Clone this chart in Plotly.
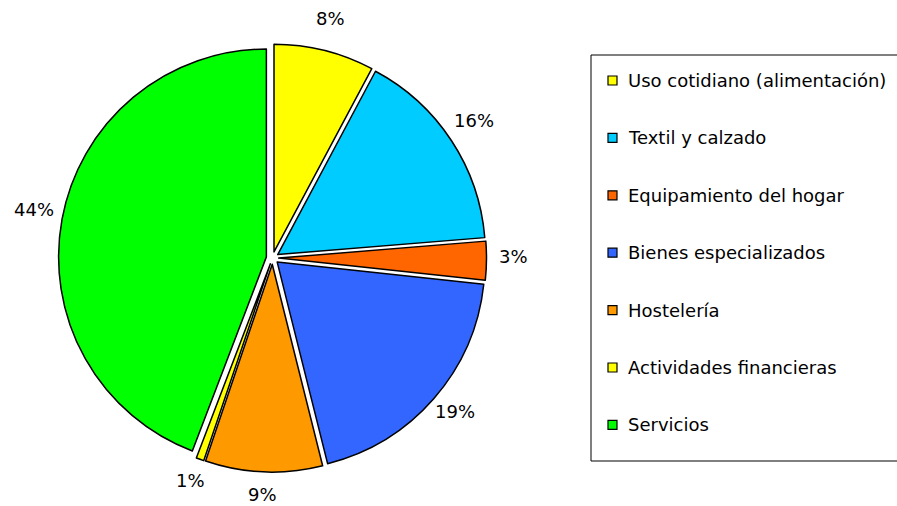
import math
import plotly.graph_objects as go

categories = ["Uso cotidiano (alimentación)", "Textil y calzado", "Equipamiento del hogar",
              "Bienes especializados", "Hostelería", "Actividades financieras", "Servicios"]
values = [7.8, 15.9, 3.0, 19.4, 9.1, 0.6, 44.2]
colors = ["#FFFF00", "#00CCFF", "#FF6600", "#3366FF", "#FF9900", "#FFFF00", "#00FF00"]

W, H = 897, 506
FONT = "DejaVu Sans, Liberation Sans, Arial"

fig = go.Figure()
fig.add_trace(go.Pie(
    labels=categories, values=values, sort=False, direction="clockwise", rotation=0,
    marker=dict(colors=colors, line=dict(color="black", width=1.5)),
    pull=[0.03] * len(values),
    textinfo="none",
    domain=dict(x=[58.5 / W, 486.5 / W], y=[(H - 472) / H, (H - 44) / H]),
    showlegend=False, hoverinfo="label+percent",
))

annotations = []
# percentage labels placed outside each slice, from the data's cumulative angles
cx, cy, rl = 272, 253, 242
total = sum(values)
cum = 0.0
for v in values:
    mid = (cum + v / 2) / total * 2 * math.pi
    cum += v
    px = cx + rl * math.sin(mid)
    py = cy - rl * math.cos(mid)
    annotations.append(dict(xref="paper", yref="paper", x=px / W, y=1 - py / H,
                            xanchor="center", yanchor="middle", showarrow=False,
                            text=f"{round(v / total * 100):.0f}%",
                            font=dict(family=FONT, size=18, color="black")))

# manual legend
lx0, lx1, ly0, ly1 = 591, 899, 55, 461
shapes = [dict(type="rect", xref="paper", yref="paper",
               x0=lx0 / W, x1=lx1 / W, y0=1 - ly1 / H, y1=1 - ly0 / H,
               line=dict(color="black", width=1), fillcolor="rgba(0,0,0,0)")]
for i, (cat, col) in enumerate(zip(categories, colors)):
    yc = 80.5 + i * 57.4
    shapes.append(dict(type="rect", xref="paper", yref="paper",
                       x0=608 / W, x1=617 / W, y0=1 - (yc + 4.5) / H, y1=1 - (yc - 4.5) / H,
                       line=dict(color="black", width=1.2), fillcolor=col))
    annotations.append(dict(xref="paper", yref="paper", x=626 / W, y=1 - yc / H,
                            xanchor="left", yanchor="middle", text=cat, showarrow=False,
                            font=dict(family=FONT, size=18, color="black")))

fig.update_layout(width=W, height=H, margin=dict(l=0, r=0, t=0, b=0),
                  paper_bgcolor="white", plot_bgcolor="white",
                  shapes=shapes, annotations=annotations)
fig.write_html("out.html", config={"displayModeBar": False},
               post_script="document.body.style.margin='0';")
